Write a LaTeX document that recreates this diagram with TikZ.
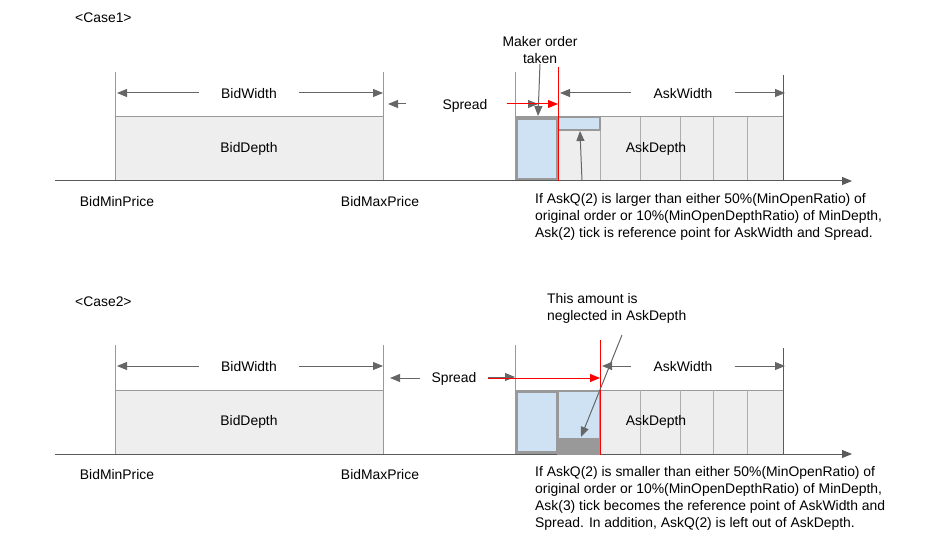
\documentclass[tikz,border=0pt]{standalone}
\usepackage{fontspec}
\setmainfont{Liberation Sans}
\usetikzlibrary{arrows.meta}
\definecolor{linegray}{HTML}{666666}
\definecolor{boxgray}{HTML}{EEEEEE}
\definecolor{cellblue}{HTML}{CFE2F3}
\definecolor{edgegray}{HTML}{999999}
\definecolor{axisgray}{HTML}{5A5A5A}
\tikzset{
  txt/.style={font=\fontsize{13.9}{17}\selectfont, inner sep=0pt, text height=10pt, text depth=3pt},
  dimtxt/.style={txt, inner xsep=22pt},
  sprtxt/.style={txt, inner xsep=11pt},
  note/.style={font=\fontsize{13.9}{17}\selectfont, inner sep=0pt, align=left, anchor=north west},
  dimarrow/.style={draw=linegray, line width=1pt, -{Triangle[length=10pt,width=8pt]}},
  redarrow/.style={draw=red, line width=1pt, -{Triangle[length=10pt,width=8pt]}},
  guide/.style={draw=edgegray, line width=1pt},
  depthbox/.style={draw=edgegray, fill=boxgray, line width=1pt},
  bluecell/.style={draw=edgegray, fill=cellblue, line width=2.5pt},
}
\begin{document}
\begin{tikzpicture}[x=1pt,y=-1pt]
  \useasboundingbox (0,0) rectangle (927,540);
  % parts that both cases share
  \foreach \c/\dy/\ax in {1/0/560,2/273/602} {
    \begin{scope}[shift={(0,\dy)}]
      \draw[depthbox] (115,117) rectangle (383,181);
      \draw[depthbox] (515,117) rectangle (783,181);
      \foreach \x in {558,600,640,680,713,747}
        \draw[draw=edgegray!80, line width=1pt] (\x,117) -- (\x,181);
      \foreach \x in {115,383,515}
        \draw[guide] (\x,72) -- (\x,181);
      \draw[draw=axisgray, line width=1pt] (783,75) -- (783,181);
      \draw[bluecell] (516.5,118.5) rectangle (557,179.5);
      \draw[draw=axisgray, line width=1pt, -{Triangle[length=10pt,width=8pt]}] (55,181) -- (852,181);
      \node[dimtxt] (bidw\c) at (249,95) {BidWidth};
      \coordinate (bl\c) at (117,93);
      \coordinate (br\c) at (383,93);
      \draw[dimarrow] (bidw\c.west |- bl\c) -- (bl\c);
      \draw[dimarrow] (bidw\c.east |- br\c) -- (br\c);
      \node[txt] (bidd\c) at (249,149) {BidDepth};
      \node[dimtxt] (askw\c) at (683,95) {AskWidth};
      \coordinate (al\c) at (\ax,93);
      \coordinate (ar\c) at (785,93);
      \draw[dimarrow] (askw\c.west |- al\c) -- (al\c);
      \draw[dimarrow] (askw\c.east |- ar\c) -- (ar\c);
      \node[txt] (askd\c) at (656,149) {AskDepth};
      \node[txt] (bmin\c) at (117,203) {BidMinPrice};
      \node[txt] (bmax\c) at (380,203) {BidMaxPrice};
    \end{scope}
  }
  % case 1
  \node[txt, anchor=west] (case1) at (75,19) {<Case1>};
  \draw[fill=cellblue, draw=edgegray, line width=1.5pt] (558,117.5) rectangle (600,130);
  \coordinate (q2top) at (580,131);
  \coordinate (q2bot) at (582,181);
  \draw[dimarrow] (q2bot) -- (q2top);
  \node[txt, text height=, text depth=, align=center] (maker) at (540,50) {Maker order\\taken};
  \coordinate (mkcell) at (538,116);
  \draw[dimarrow] (maker.south) -- (mkcell);
  \draw[red, line width=1pt] (558,67) -- (558,181);
  \node[sprtxt] (spread1) at (465,106) {Spread};
  \coordinate (sl1) at (388,104);
  \coordinate (sg1) at (538,104);
  \coordinate (sr1) at (558,104);
  \draw[dimarrow] ([xshift=-25pt]spread1.west |- sl1) -- (sl1);
  \draw[dimarrow] ([xshift=8pt]spread1.east |- sg1) -- (sg1);
  \draw[redarrow] ([xshift=8pt]spread1.east |- sr1) -- (sr1);
  \node[note] (rule1) at (535,193) {If AskQ(2) is larger than either 50\%(MinOpenRatio) of\\
    original order or 10\%(MinOpenDepthRatio) of MinDepth,\\
    Ask(2) tick is reference point for AskWidth and Spread.};
  % case 2
  \node[txt, anchor=west] (case2) at (75,303) {<Case2>};
  \draw[bluecell, line width=2pt] (558,391) rectangle (600,454);
  \draw[draw=edgegray, fill=edgegray, line width=1pt] (558,438) rectangle (600,454);
  \draw[red, line width=1pt] (600,340) -- (600,455);
  \node[sprtxt] (spread2) at (454,379) {Spread};
  \coordinate (sl2) at (390,378);
  \coordinate (sg2) at (515,377);
  \coordinate (sr2) at (600,378);
  \draw[dimarrow] (spread2.west |- sl2) -- (sl2);
  \draw[dimarrow] (spread2.east |- sg2) -- (sg2);
  \draw[redarrow] (spread2.east |- sr2) -- (sr2);
  \node[note] (amount) at (547,293) {This amount is\\neglected in AskDepth};
  \coordinate (na) at (622,335);
  \coordinate (nb) at (581,437);
  \draw[dimarrow] (na) -- (nb);
  \node[note] (rule2) at (535,466) {If AskQ(2) is smaller than either 50\%(MinOpenRatio) of\\
    original order or 10\%(MinOpenDepthRatio) of MinDepth,\\
    Ask(3) tick becomes the reference point of AskWidth and\\
    Spread. In addition, AskQ(2) is left out of AskDepth.};
\end{tikzpicture}
\end{document}
